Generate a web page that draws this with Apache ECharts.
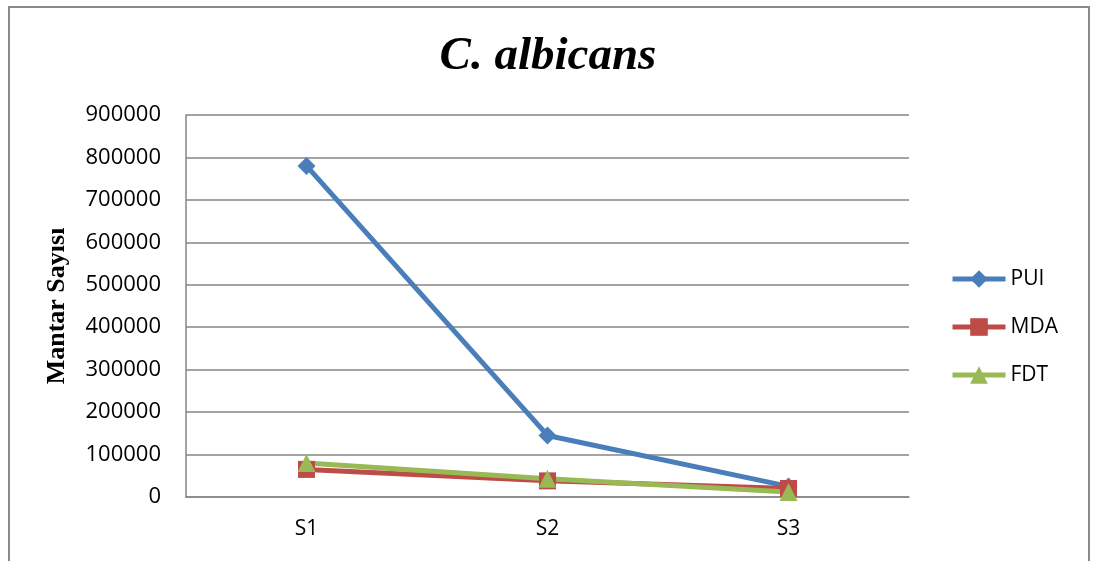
<!DOCTYPE html>
<html>
<head>
<meta charset="utf-8">
<script src="https://cdn.jsdelivr.net/npm/echarts@6/dist/echarts.min.js"></script>
<style>html,body{margin:0;padding:0;background:#fff}#c{width:1096px;height:561px}</style>
</head>
<body>
<div id="c"></div>
<script>
var categories = ['S1', 'S2', 'S3'];
var seriesNames = ['PUI', 'MDA', 'FDT'];
var pui = [780000, 145000, 25000];
var mda = [65000, 38000, 20000];
var fdt = [80000, 43000, 12000];
var yTicks = [0, 100000, 200000, 300000, 400000, 500000, 600000, 700000, 800000, 900000];
var titleText = 'C. albicans';
var yAxisName = 'Mantar Sayısı';

var chart = echarts.init(document.getElementById('c'));
var gridColor = '#868686';
function mk(name, data, color, symbol, size) {
  return {
    name: name, type: 'line', data: data, symbol: symbol, symbolSize: size,
    lineStyle: {color: color, width: 5}, itemStyle: {color: color},
    emphasis: {disabled: true}, animation: false
  };
}
chart.setOption({
  animation: false,
  title: {
    text: titleText, left: 'center', top: 28,
    textStyle: {fontFamily: 'Liberation Serif', fontStyle: 'italic', fontWeight: 'bold', fontSize: 47, color: '#000'}
  },
  graphic: [{
    type: 'rect', shape: {x: 9, y: 7, width: 1080, height: 600},
    style: {fill: 'none', stroke: '#8a8a8a', lineWidth: 2}, silent: true, z: -1
  }],
  legend: {
    orient: 'vertical', left: 945, top: 262,
    itemWidth: 53, itemHeight: 22, itemGap: 24,
    data: seriesNames,
    lineStyle: {width: 5},
    textStyle: {fontFamily: 'Open Sans', fontSize: 21, color: '#000', lineHeight: 24}
  },
  grid: {left: 186, right: 187, top: 115, bottom: 64},
  xAxis: {
    type: 'category', data: categories, boundaryGap: true,
    axisLine: {lineStyle: {color: gridColor, width: 1.5}},
    axisTick: {show: false},
    axisLabel: {fontFamily: 'Open Sans', fontSize: 21, color: '#000', margin: 22}
  },
  yAxis: {
    type: 'value', min: yTicks[0], max: yTicks[yTicks.length - 1], interval: yTicks[1] - yTicks[0],
    name: yAxisName, nameLocation: 'middle', nameGap: 116, nameRotate: 90,
    nameTextStyle: {fontFamily: 'Liberation Serif', fontWeight: 'bold', fontSize: 26, color: '#000'},
    axisLine: {show: true, lineStyle: {color: gridColor, width: 1.5}},
    axisTick: {show: false},
    splitLine: {lineStyle: {color: gridColor, width: 1.5}},
    axisLabel: {fontFamily: 'Open Sans', fontSize: 22, color: '#000', margin: 25,
      formatter: function (v) { return String(v); }}
  },
  series: [
    mk(seriesNames[0], pui, '#4A7EBB', 'diamond', 18),
    mk(seriesNames[1], mda, '#BE4B48', 'rect', 17),
    mk(seriesNames[2], fdt, '#98B954', 'triangle', 18)
  ]
});
</script>
</body>
</html>
